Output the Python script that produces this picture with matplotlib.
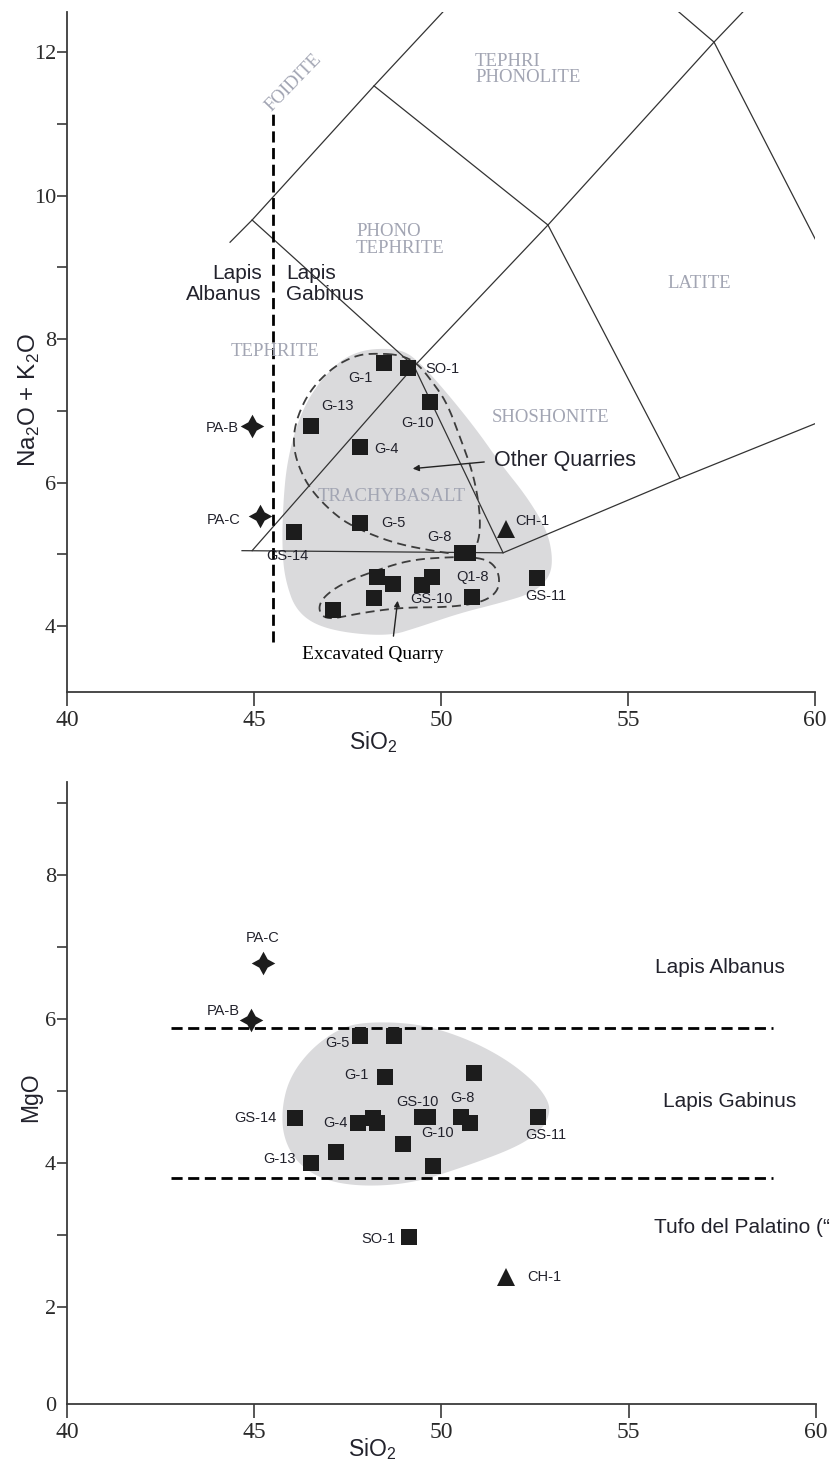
import numpy as np
import matplotlib
matplotlib.use("Agg")
import matplotlib.pyplot as plt
from matplotlib.ticker import MultipleLocator

plt.rcParams['font.family'] = ['Liberation Sans', 'DejaVu Sans']
plt.rcParams['mathtext.fontset'] = 'custom'
plt.rcParams['mathtext.rm'] = 'Liberation Sans'

# ---------------- upper panel: TAS diagram (SiO2 vs Na2O+K2O) ----------------
# field boundaries
foidite_x = [44.36, 44.95, 48.21, 50.05]
foidite_y = [9.35, 9.66, 11.53, 12.56]
tephrite_x = [44.95, 49.28, 51.66]
tephrite_y = [9.66, 7.62, 5.02]
trachy_x = [44.95, 49.28, 52.86, 57.30, 58.07]
trachy_y = [5.05, 7.62, 9.59, 12.14, 12.56]
basalt_x = [44.68, 51.66, 56.39, 60.0]
basalt_y = [5.05, 5.02, 6.06, 6.82]
phono_x = [48.21, 52.86, 56.39]
phono_y = [11.53, 9.59, 6.06]
latite_x = [56.36, 57.30, 60.03]
latite_y = [12.56, 12.14, 9.37]
foidite_limit_x = 45.51
foidite_limit_y = [3.78, 11.15]

# samples (squares)
tas_sq_x = [48.48, 49.12, 49.71, 46.52, 47.83, 47.83, 46.07, 50.56, 50.72,
            48.29, 48.72, 49.49, 49.76, 48.21, 47.11, 50.83, 52.57]
tas_sq_y = [7.67, 7.60, 7.12, 6.79, 6.49, 5.44, 5.31, 5.02, 5.02,
            4.68, 4.59, 4.57, 4.68, 4.39, 4.22, 4.40, 4.67]
tas_sq_names = ['G-1', 'SO-1', 'G-10', 'G-13', 'G-4', 'G-5', 'GS-14', 'G-8', '',
                '', '', 'GS-10', 'Q1-8', '', '', '', 'GS-11']
tas_star_x = [44.95, 45.16]
tas_star_y = [6.79, 5.53]
tas_star_names = ['PA-B', 'PA-C']
tas_tri_x = [51.74]
tas_tri_y = [5.35]
tas_tri_names = ['CH-1']

# outlines of the shaded field and the two dashed groups
tas_field_x = [48.29, 48.98, 49.44, 50.16, 50.96, 51.58, 52.30, 52.83, 52.99, 52.91,
               52.46, 51.58, 50.51, 49.44, 48.56, 46.95, 46.15, 45.83, 45.75, 45.78,
               45.88, 46.15, 46.58, 47.22, 47.75]
tas_field_y = [7.87, 7.85, 7.67, 7.25, 6.73, 6.27, 5.80, 5.34, 4.96, 4.68,
               4.46, 4.32, 4.18, 3.99, 3.85, 3.94, 4.18, 4.64, 5.10, 5.71,
               6.27, 6.83, 7.29, 7.67, 7.82]
other_q_x = [48.29, 48.90, 49.36, 49.79, 50.16, 50.51, 50.86, 51.04, 51.04, 50.86,
             50.51, 49.63, 48.72, 47.83, 47.22, 46.50, 46.15, 46.04, 46.15, 46.50,
             47.11, 47.75]
other_q_y = [7.80, 7.78, 7.67, 7.39, 7.11, 6.63, 6.13, 5.62, 5.24, 5.02,
             4.99, 5.06, 5.16, 5.34, 5.52, 5.90, 6.27, 6.59, 6.91, 7.29,
             7.61, 7.78]
excav_q_x = [50.16, 50.96, 51.39, 51.58, 51.50, 51.04, 50.16, 48.98, 47.83, 46.95,
             46.71, 46.84, 47.38, 48.29, 49.17]
excav_q_y = [4.96, 4.96, 4.88, 4.68, 4.46, 4.32, 4.26, 4.26, 4.18, 4.08,
             4.22, 4.40, 4.60, 4.78, 4.92]

# ---------------- lower panel: SiO2 vs MgO ----------------
mg_sq_x = [47.83, 48.74, 48.48, 50.86, 46.10, 47.78, 48.18, 48.29, 49.47, 49.65,
           50.51, 50.75, 52.57, 48.98, 47.17, 46.52, 49.76, 49.12]
mg_sq_y = [5.76, 5.76, 5.19, 5.25, 4.63, 4.55, 4.63, 4.55, 4.64, 4.64,
           4.64, 4.55, 4.64, 4.26, 4.15, 4.00, 3.96, 2.97]
mg_sq_names = ['G-5', '', 'G-1', '', 'GS-14', 'G-4', '', '', 'GS-10', 'G-10',
               'G-8', '', 'GS-11', '', '', 'G-13', '', 'SO-1']
mg_star_x = [45.24, 44.92]
mg_star_y = [6.78, 5.99]
mg_star_names = ['PA-C', 'PA-B']
mg_tri_x = [51.71]
mg_tri_y = [2.42]
mg_tri_names = ['CH-1']
mg_limits = [5.875, 3.79]
mg_field_x = [47.91, 49.35, 50.57, 51.64, 52.44, 52.84, 52.90, 52.68, 52.02, 50.57,
              49.24, 47.91, 46.84, 46.14, 45.77, 45.74, 45.95, 46.49, 47.21]
mg_field_y = [5.96, 5.94, 5.75, 5.47, 5.15, 4.88, 4.69, 4.46, 4.22, 3.94,
              3.72, 3.67, 3.76, 4.00, 4.36, 4.78, 5.19, 5.57, 5.85]

# label offsets (points) for each named sample
tas_offsets = {'G-1': (-17, -11), 'SO-1': (25, -1), 'G-10': (-9, -15), 'G-13': (19, 14),
               'G-4': (19, -1), 'G-5': (24, 0), 'GS-14': (-5, -17), 'G-8': (-16, 11.5),
               'GS-10': (7, -10), 'Q1-8': (29.5, 0.5), 'GS-11': (6, -13),
               'PA-B': (-21.5, -1.5), 'PA-C': (-26.5, -3), 'CH-1': (19, 6)}
mg_offsets = {'G-5': (-16.5, -5), 'G-1': (-20, 1.5), 'GS-14': (-29, -0.5), 'G-4': (-16.5, 0),
              'GS-10': (-3, 11), 'G-10': (6.5, -11.5), 'G-8': (1.5, 13.5), 'GS-11': (6, -13),
              'G-13': (-23, 3), 'SO-1': (-21.5, -1.5), 'PA-C': (-0.5, 18), 'PA-B': (-20, 6.5),
              'CH-1': (28, 0)}

INK = '#1c1c1c'
LBL = '#22222c'
FIELD = '#a2a5b3'
GREY = '#dadadc'
SERIF = 'Liberation Serif'


def chaikin(x, y, n=4):
    p = np.column_stack([x, y])
    for _ in range(n):
        nxt = np.roll(p, -1, axis=0)
        q = 0.75 * p + 0.25 * nxt
        r = 0.25 * p + 0.75 * nxt
        p = np.empty((2 * len(q), 2))
        p[0::2] = q
        p[1::2] = r
    p = np.vstack([p, p[:1]])
    return p[:, 0], p[:, 1]


def put_labels(ax, xs, ys, names, offsets, size=10.5):
    for x, y, n in zip(xs, ys, names):
        if n:
            ax.annotate(n, (x, y), xytext=offsets[n], textcoords='offset points',
                        ha='center', va='center', fontsize=size, color=LBL, zorder=6)


def style_axes(ax):
    for s in ['top', 'right']:
        ax.spines[s].set_visible(False)
    for s in ['left', 'bottom']:
        ax.spines[s].set_color('#3a3a3a')
        ax.spines[s].set_linewidth(1.3)
    ax.set_xlim(40, 60)
    ax.set_xticks([40, 45, 50, 55, 60])
    ax.tick_params(axis='x', direction='out', length=10, width=1.2, pad=3,
                   labelsize=17, labelfontfamily=SERIF, color='#3a3a3a', labelcolor='#2a2a2a')
    ax.yaxis.set_minor_locator(MultipleLocator(1))
    ax.tick_params(axis='y', which='both', direction='out', length=7, width=1.2, pad=1,
                   labelsize=16, labelfontfamily=SERIF, color='#3a3a3a', labelcolor='#2a2a2a')


fig = plt.figure(figsize=(8.33, 14.62), dpi=100)

# ---------------- upper panel ----------------
ax1 = fig.add_axes([0.0804, 0.5267, 0.8980, 0.4651])
style_axes(ax1)
ax1.set_ylim(3.08, 12.56)
ax1.set_yticks([4, 6, 8, 10, 12])

fx, fy = chaikin(tas_field_x, tas_field_y)
ax1.fill(fx, fy, color=GREY, lw=0, zorder=1)

for bx, by in [(foidite_x, foidite_y), (tephrite_x, tephrite_y), (trachy_x, trachy_y),
               (basalt_x, basalt_y), (phono_x, phono_y), (latite_x, latite_y)]:
    ax1.plot(bx, by, color='#333333', lw=0.9, zorder=2)

ax1.plot([foidite_limit_x] * 2, foidite_limit_y, color='black', lw=2, ls=(0, (4, 2)), zorder=3)

for gx, gy in [(other_q_x, other_q_y), (excav_q_x, excav_q_y)]:
    cx, cy = chaikin(gx, gy)
    ax1.plot(cx, cy, color='#3c3c3c', lw=1.3, ls=(0, (5, 3)), zorder=3)

ax1.plot(tas_sq_x, tas_sq_y, 's', ms=12, color=INK, mew=0, zorder=4)
ax1.plot(tas_star_x, tas_star_y, marker=(4, 1, 0), ls='none', ms=17, color=INK, mew=0, zorder=4)
ax1.plot(tas_tri_x, tas_tri_y, '^', ms=13, color=INK, mew=0, zorder=4)
put_labels(ax1, tas_sq_x, tas_sq_y, tas_sq_names, tas_offsets)
put_labels(ax1, tas_star_x, tas_star_y, tas_star_names, tas_offsets)
put_labels(ax1, tas_tri_x, tas_tri_y, tas_tri_names, tas_offsets)

# rock field names
fkw = dict(family=SERIF, color=FIELD, fontsize=13.5, zorder=5)
ax1.text(46.07, 11.58, 'FOIDITE', rotation=46, ha='center', va='center', **fkw)
ax1.text(50.91, 11.76, 'TEPHRI\nPHONOLITE', ha='left', va='center', linespacing=0.95, **fkw)
ax1.text(47.73, 9.38, 'PHONO\nTEPHRITE', ha='left', va='center', linespacing=1.0, **fkw)
ax1.text(56.90, 8.77, 'LATITE', ha='center', va='center', **fkw)
ax1.text(45.56, 7.82, 'TEPHRITE', ha='center', va='center', **fkw)
ax1.text(52.94, 6.90, 'SHOSHONITE', ha='center', va='center', **fkw)
ax1.text(48.69, 5.80, 'TRACHYBASALT', ha='center', va='center', **fkw)

ax1.text(45.21, 8.77, 'Lapis\nAlbanus', ha='right', va='center', fontsize=15,
         color=LBL, linespacing=1.15, multialignment='right')
ax1.text(45.86, 8.77, 'Lapis\nGabinus', ha='left', va='center', fontsize=15,
         color=LBL, linespacing=1.15)
ax1.text(51.42, 6.31, 'Other Quarries', ha='left', va='center', fontsize=15.5, color=LBL)
ax1.annotate('', xy=(49.17, 6.19), xytext=(51.23, 6.29),
             arrowprops=dict(arrowstyle='-|>', color='#222222', lw=1.0, mutation_scale=9))
ax1.text(48.18, 3.60, 'Excavated Quarry', family=SERIF, ha='center', va='center',
         fontsize=14, color='black')
ax1.annotate('', xy=(48.85, 4.39), xytext=(48.72, 3.82),
             arrowprops=dict(arrowstyle='-|>', color='#222222', lw=1.0, mutation_scale=8))

ax1.set_xlabel(r'SiO$_{\mathregular{2}}$', fontsize=16.5, color=LBL)
ax1.xaxis.set_label_coords(0.41, -0.055)
ax1.set_ylabel(r'Na$_{\mathregular{2}}$O + K$_{\mathregular{2}}$O', fontsize=17.5, color=LBL)
ax1.yaxis.set_label_coords(-0.033, 0.43)

# ---------------- lower panel ----------------
ax2 = fig.add_axes([0.0804, 0.0397, 0.8992, 0.4254])
style_axes(ax2)
ax2.set_ylim(0.653, 9.29)
ax2.set_yticks([0.653, 2, 4, 6, 8])
ax2.set_yticklabels(['0', '2', '4', '6', '8'])
ax2.yaxis.get_major_ticks()[0].tick1line.set_visible(False)
ax2.set_yticks([3, 5, 7, 9], minor=True)

gx, gy = chaikin(mg_field_x, mg_field_y)
ax2.fill(gx, gy, color=GREY, lw=0, zorder=1)
for lim in mg_limits:
    ax2.plot([42.78, 58.85], [lim, lim], color='black', lw=2, ls=(0, (4, 2)), zorder=3)

ax2.plot(mg_sq_x, mg_sq_y, 's', ms=12, color=INK, mew=0, zorder=4)
ax2.plot(mg_star_x, mg_star_y, marker=(4, 1, 0), ls='none', ms=17, color=INK, mew=0, zorder=4)
ax2.plot(mg_tri_x, mg_tri_y, '^', ms=13, color=INK, mew=0, zorder=4)
put_labels(ax2, mg_sq_x, mg_sq_y, mg_sq_names, mg_offsets)
put_labels(ax2, mg_star_x, mg_star_y, mg_star_names, mg_offsets)
put_labels(ax2, mg_tri_x, mg_tri_y, mg_tri_names, mg_offsets)

ax2.text(55.70, 6.71, 'Lapis Albanus', ha='left', va='center', fontsize=15, color=LBL)
ax2.text(55.91, 4.85, 'Lapis Gabinus', ha='left', va='center', fontsize=15, color=LBL)
ax2.text(55.67, 3.10, 'Tufo del Palatino (\u201c', ha='left', va='center',
         fontsize=15, color=LBL)

ax2.set_xlabel(r'SiO$_{\mathregular{2}}$', fontsize=16.5, color=LBL)
ax2.xaxis.set_label_coords(0.407, -0.052)
ax2.set_ylabel('MgO', fontsize=16.5, color=LBL)
ax2.yaxis.set_label_coords(-0.033, 0.494)

fig.savefig('out.png', dpi=100)
